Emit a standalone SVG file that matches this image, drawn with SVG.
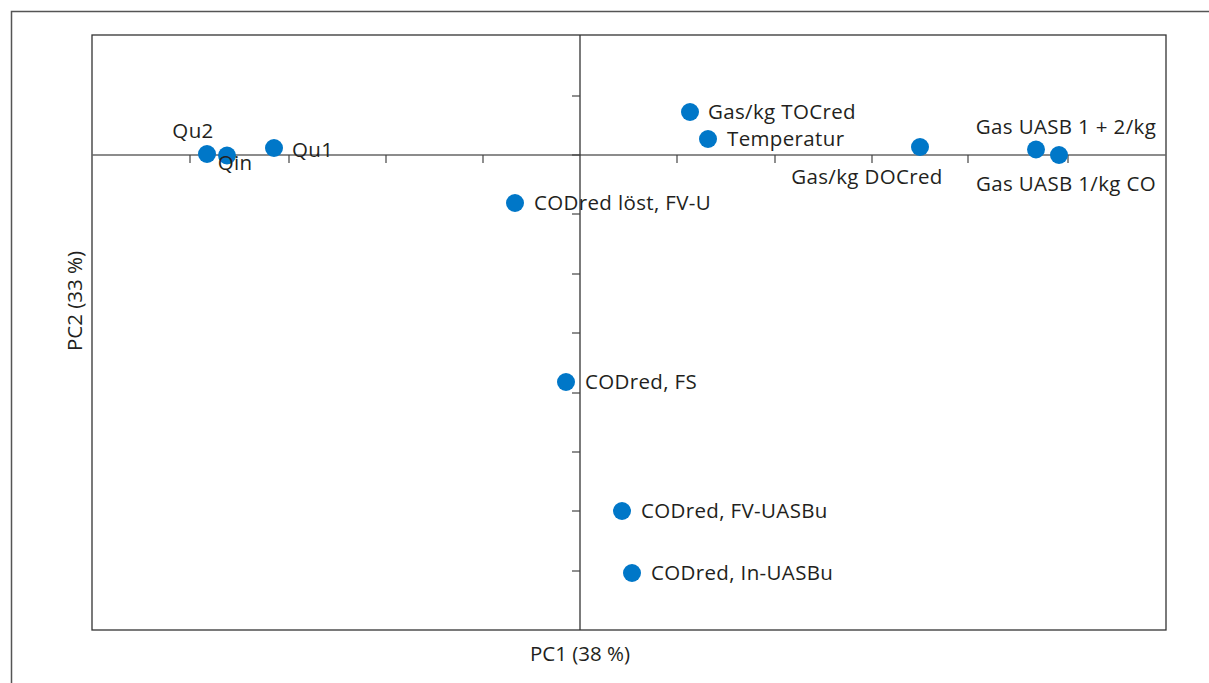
<svg xmlns="http://www.w3.org/2000/svg" width="1209" height="683" viewBox="0 0 1209 683">
<style>
.frame{fill:none;stroke:#555;stroke-width:1.5}
.box{fill:none;stroke:#333;stroke-width:1.3}
.axis{stroke:#666;stroke-width:1.5}
.vaxis{stroke:#333;stroke-width:1.3}
.tick{stroke:#444;stroke-width:1.2}
.dot{fill:#0077c8}
.lbl{font-family:"Open Sans","Liberation Sans",sans-serif;font-size:20.5px;letter-spacing:0.35px;fill:#231f20}
.ttl{font-family:"Open Sans","Liberation Sans",sans-serif;font-size:20.5px;fill:#231f20}
</style>
<rect width="1209" height="683" fill="#fff"/>
<path class="frame" d="M1209 11.5 H11.5 V683"/>
<g id="plot">
<rect class="box" x="92" y="35" width="1074" height="595"/>
<line class="axis" x1="92" y1="155" x2="1166" y2="155"/>
<line class="vaxis" x1="580" y1="35" x2="580" y2="630"/>
<g id="xticks">
<line class="tick" x1="190" y1="155" x2="190" y2="163"/>
<line class="tick" x1="289" y1="155" x2="289" y2="163"/>
<line class="tick" x1="386" y1="155" x2="386" y2="163"/>
<line class="tick" x1="483" y1="155" x2="483" y2="163"/>
<line class="tick" x1="677" y1="155" x2="677" y2="163"/>
<line class="tick" x1="775" y1="155" x2="775" y2="163"/>
<line class="tick" x1="872" y1="155" x2="872" y2="163"/>
<line class="tick" x1="968" y1="155" x2="968" y2="163"/>
<line class="tick" x1="1068" y1="155" x2="1068" y2="163"/>
</g>
<g id="yticks">
<line class="tick" x1="572" y1="96" x2="580" y2="96"/>
<line class="tick" x1="572" y1="155" x2="580" y2="155"/>
<line class="tick" x1="572" y1="214" x2="580" y2="214"/>
<line class="tick" x1="572" y1="274" x2="580" y2="274"/>
<line class="tick" x1="572" y1="333" x2="580" y2="333"/>
<line class="tick" x1="572" y1="393" x2="580" y2="393"/>
<line class="tick" x1="572" y1="452" x2="580" y2="452"/>
<line class="tick" x1="572" y1="511" x2="580" y2="511"/>
<line class="tick" x1="572" y1="571" x2="580" y2="571"/>
</g>
<text class="ttl" x="580" y="661" text-anchor="middle">PC1 (38 %)</text>
<text class="ttl" transform="translate(82 301) rotate(-90)" text-anchor="middle">PC2 (33 %)</text>
</g>
<g id="n-qu2"><circle class="dot" cx="207" cy="154" r="9"/><text class="lbl" x="193" y="138" text-anchor="middle">Qu2</text></g>
<g id="n-qin"><circle class="dot" cx="227" cy="155.5" r="9"/><text class="lbl" x="235" y="170" text-anchor="middle">Qin</text></g>
<g id="n-qu1"><circle class="dot" cx="274" cy="148" r="9"/><text class="lbl" x="292" y="157">Qu1</text></g>
<g id="n-toc"><circle class="dot" cx="690" cy="112" r="9"/><text class="lbl" x="708" y="119">Gas/kg TOCred</text></g>
<g id="n-temp"><circle class="dot" cx="708" cy="139" r="9"/><text class="lbl" x="727" y="146">Temperatur</text></g>
<g id="n-doc"><circle class="dot" cx="920" cy="147" r="9"/><text class="lbl" x="867" y="184" text-anchor="middle">Gas/kg DOCred</text></g>
<g id="n-uasb12"><circle class="dot" cx="1036" cy="149.5" r="9"/><text class="lbl" x="1066" y="134" text-anchor="middle">Gas UASB 1 + 2/kg</text></g>
<g id="n-uasb1"><circle class="dot" cx="1059" cy="155" r="9"/><text class="lbl" x="1066" y="191" text-anchor="middle">Gas UASB 1/kg CO</text></g>
<g id="n-fvu"><circle class="dot" cx="515" cy="203" r="9"/><text class="lbl" x="534" y="210">CODred löst, FV-U</text></g>
<g id="n-fs"><circle class="dot" cx="566" cy="382" r="9"/><text class="lbl" x="585" y="389">CODred, FS</text></g>
<g id="n-fvuasb"><circle class="dot" cx="622" cy="511" r="9"/><text class="lbl" x="641" y="518">CODred, FV-UASBu</text></g>
<g id="n-inuasb"><circle class="dot" cx="632" cy="573" r="9"/><text class="lbl" x="651" y="580">CODred, In-UASBu</text></g>
<g id="connectors"/>
</svg>
